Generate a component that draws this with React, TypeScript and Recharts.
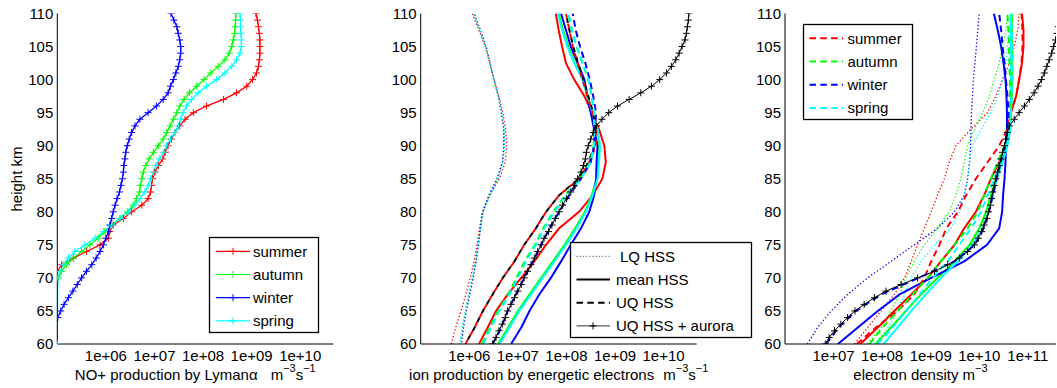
import React from 'react';
import { LineChart, Line, XAxis, YAxis, Legend } from 'recharts';

const FONT = '"Liberation Sans", Arial, Helvetica, sans-serif';

// ---------- categories / axes ----------
const H_1KM = [60, 61, 62, 63, 64, 65, 66, 67, 68, 69, 70, 71, 72, 73, 74, 75, 76, 77, 78, 79, 80, 81, 82, 83, 84, 85, 86, 87, 88, 89, 90, 91, 92, 93, 94, 95, 96, 97, 98, 99, 100, 101, 102, 103, 104, 105, 106, 107, 108, 109, 110];
const H_2P5 = [60, 62.5, 65, 67.5, 70, 72.5, 75, 77.5, 80, 82.5, 85, 87.5, 90, 92.5, 95, 97.5, 100, 102.5, 105, 107.5, 110];

const Y_DOMAIN: [number, number] = [60, 110];
const Y_TICKS = [60, 65, 70, 75, 80, 85, 90, 95, 100, 105, 110];

const X12_DOMAIN: [number, number] = [1e5, 4.8e10];
const X12_TICKS = [1e6, 1e7, 1e8, 1e9, 1e10];
const X12_LABELS = ['1e+06', '1e+07', '1e+08', '1e+09', '1e+10'];
const X12_MINOR = [2e5, 3e5, 4e5, 5e5, 6e5, 7e5, 8e5, 9e5, 2e6, 3e6, 4e6, 5e6, 6e6, 7e6, 8e6, 9e6, 2e7, 3e7, 4e7, 5e7, 6e7, 7e7, 8e7, 9e7, 2e8, 3e8, 4e8, 5e8, 6e8, 7e8, 8e8, 9e8, 2e9, 3e9, 4e9, 5e9, 6e9, 7e9, 8e9, 9e9, 2e10, 3e10, 4e10];

const X3_DOMAIN: [number, number] = [1e6, 3.8e11];
const X3_TICKS = [1e7, 1e8, 1e9, 1e10, 1e11];
const X3_LABELS = ['1e+07', '1e+08', '1e+09', '1e+10', '1e+11'];
const X3_MINOR = [2e6, 3e6, 4e6, 5e6, 6e6, 7e6, 8e6, 9e6, 2e7, 3e7, 4e7, 5e7, 6e7, 7e7, 8e7, 9e7, 2e8, 3e8, 4e8, 5e8, 6e8, 7e8, 8e8, 9e8, 2e9, 3e9, 4e9, 5e9, 6e9, 7e9, 8e9, 9e9, 2e10, 3e10, 4e10, 5e10, 6e10, 7e10, 8e10, 9e10, 2e11, 3e11];

const SEASONS = ['summer', 'autumn', 'winter', 'spring'];
const SEASON_COLORS = ['#ff0000', '#00ff00', '#0000ff', '#00ffff'];
const HSS_LABELS = ['LQ HSS', 'mean HSS', 'UQ HSS', 'UQ HSS + aurora'];

const TITLE1 = 'NO+ production by Lymanα';
const TITLE2 = 'ion production by energetic electrons';
const TITLE3 = 'electron density m';
const Y_TITLE = 'height km';

// ---------- panel 1 : log10 NO+ production by Lyman alpha (60..110 km, 1 km) ----------
const lyaSummer = [null, null, null, null, null, null, null, null, null, null, null, 5.00, 5.09, 5.33, 5.60, 5.88, 6.05, 6.08, 6.15, 6.36, 6.53, 6.74, 6.87, 6.92, 6.94, 6.96, 7.01, 7.08, 7.17, 7.22, 7.28, 7.35, 7.42, 7.52, 7.63, 7.80, 8.07, 8.42, 8.69, 8.90, 9.02, 9.10, 9.14, 9.16, 9.17, 9.17, 9.17, 9.16, 9.14, 9.12, 9.09];
const lyaAutumn = [null, null, null, null, null, null, null, null, null, null, 5.02, 5.09, 5.19, 5.33, 5.50, 5.67, 5.84, 5.98, 6.12, 6.29, 6.44, 6.56, 6.63, 6.69, 6.71, 6.74, 6.77, 6.82, 6.89, 6.98, 7.08, 7.18, 7.25, 7.32, 7.39, 7.46, 7.52, 7.61, 7.72, 7.87, 8.02, 8.16, 8.31, 8.45, 8.54, 8.59, 8.62, 8.65, 8.66, 8.67, 8.68];
const lyaWinter = [null, null, null, null, 5.01, 5.07, 5.14, 5.23, 5.32, 5.41, 5.50, 5.60, 5.71, 5.80, 5.88, 5.95, 6.00, 6.05, 6.08, 6.12, 6.15, 6.19, 6.23, 6.28, 6.31, 6.34, 6.36, 6.37, 6.39, 6.41, 6.44, 6.48, 6.53, 6.60, 6.70, 6.87, 7.04, 7.18, 7.28, 7.33, 7.39, 7.44, 7.49, 7.52, 7.54, 7.54, 7.52, 7.49, 7.46, 7.40, 7.34];
const lyaSpring = [5.00, null, null, null, null, null, null, null, null, null, 5.01, 5.05, 5.12, 5.23, 5.36, 5.57, 5.78, 5.95, 6.12, 6.29, 6.46, 6.60, 6.70, 6.80, 6.87, 6.92, 6.98, 7.03, 7.10, 7.18, 7.25, 7.33, 7.42, 7.49, 7.54, 7.59, 7.66, 7.76, 7.90, 8.07, 8.28, 8.45, 8.59, 8.69, 8.76, 8.79, 8.79, 8.78, 8.77, 8.77, 8.76];

// ---------- panel 2 : log10 ion production by energetic electrons (2.5 km) ----------
const lqRed2 = [5.63, 5.72, 5.83, 5.93, 6.02, 6.10, 6.16, 6.21, 6.27, 6.42, 6.62, 6.74, 6.77, 6.75, 6.69, 6.61, 6.51, 6.42, 6.33, 6.20, 6.06];
const lqGreen2 = [5.81, 5.86, 5.92, 5.99, 6.06, 6.13, 6.18, 6.22, 6.28, 6.42, 6.59, 6.69, 6.72, 6.72, 6.66, 6.59, 6.50, 6.42, 6.33, 6.21, 6.09];
const lqBlue2 = [5.84, 5.88, 5.94, 6.01, 6.08, 6.14, 6.19, 6.23, 6.28, 6.40, 6.57, 6.68, 6.71, 6.71, 6.66, 6.60, 6.51, 6.43, 6.35, 6.23, 6.10];
const lqCyan2 = [5.80, 5.85, 5.92, 5.99, 6.06, 6.13, 6.18, 6.23, 6.29, 6.43, 6.60, 6.70, 6.73, 6.73, 6.67, 6.60, 6.51, 6.43, 6.34, 6.22, 6.09];
const meanRed2 = [6.20, 6.38, 6.55, 6.79, 7.07, 7.34, 7.58, 7.85, 8.26, 8.54, 8.74, 8.81, 8.78, 8.67, 8.52, 8.37, 8.16, 7.99, 7.91, 7.84, 7.78];
const meanGreen2 = [6.59, 6.80, 7.00, 7.24, 7.48, 7.72, 7.96, 8.18, 8.38, 8.52, 8.62, 8.66, 8.68, 8.64, 8.54, 8.44, 8.34, 8.17, 8.04, 7.93, 7.84];
const meanBlue2 = [6.86, 7.07, 7.24, 7.44, 7.68, 7.89, 8.09, 8.30, 8.47, 8.57, 8.61, 8.62, 8.64, 8.57, 8.50, 8.43, 8.37, 8.23, 8.09, 7.99, 7.89];
const meanCyan2 = [6.62, 6.83, 7.03, 7.27, 7.51, 7.75, 7.99, 8.21, 8.40, 8.54, 8.64, 8.67, 8.69, 8.64, 8.54, 8.43, 8.33, 8.16, 8.02, 7.91, 7.82];
const uqBlack2 = [5.92, 6.11, 6.28, 6.48, 6.69, 6.93, 7.13, 7.37, 7.58, 7.85, 8.25, 8.45, 8.58, 8.60, 8.55, 8.45, 8.35, 8.24, 8.14, 8.06, 7.99];
const uqRed2 = [5.92, 6.11, 6.28, 6.48, 6.69, 6.93, 7.13, 7.37, 7.58, 7.85, 8.26, 8.47, 8.61, 8.61, 8.54, 8.43, 8.33, 8.23, 8.13, 8.06, 7.99];
const uqGreen2 = [6.26, 6.42, 6.59, 6.80, 6.97, 7.14, 7.35, 7.52, 7.73, 7.97, 8.28, 8.49, 8.56, 8.57, 8.57, 8.52, 8.45, 8.33, 8.21, 8.11, 8.04];
const uqBlue2 = [6.48, 6.66, 6.79, 6.96, 7.13, 7.31, 7.48, 7.65, 7.85, 8.06, 8.30, 8.50, 8.57, 8.59, 8.61, 8.55, 8.48, 8.39, 8.28, 8.19, 8.13];
const uqCyan2 = [6.29, 6.45, 6.62, 6.83, 7.00, 7.17, 7.37, 7.54, 7.75, 7.99, 8.30, 8.50, 8.57, 8.57, 8.57, 8.52, 8.45, 8.33, 8.21, 8.11, 8.04];
// 1 km
const auroraProd = [6.48, 6.55, 6.61, 6.68, 6.74, 6.79, 6.86, 6.93, 7.00, 7.07, 7.13, 7.20, 7.27, 7.34, 7.41, 7.48, 7.54, 7.63, 7.70, 7.77, 7.85, 7.92, 8.00, 8.09, 8.16, 8.23, 8.30, 8.35, 8.39, 8.41, 8.45, 8.50, 8.55, 8.62, 8.73, 8.87, 9.05, 9.29, 9.53, 9.75, 9.92, 10.06, 10.16, 10.25, 10.32, 10.38, 10.44, 10.47, 10.49, 10.51, 10.52];

// ---------- panel 3 : log10 electron density (2.5 km) ----------
const lqRed3 = [7.43, 7.70, 7.98, 8.25, 8.46, 8.60, 8.73, 8.87, 9.01, 9.14, 9.28, 9.38, 9.52, 9.83, 10.17, 10.34, 10.48, 10.62, 10.72, 10.79, 10.82];
const lqGreen3 = [7.70, 7.98, 8.18, 8.36, 8.49, 8.66, 8.87, 9.14, 9.38, 9.52, 9.62, 9.69, 9.76, 9.90, 10.07, 10.21, 10.31, 10.41, 10.48, 10.55, 10.58];
const lqBlue3 = [6.46, 6.67, 6.95, 7.29, 7.70, 8.18, 8.66, 9.14, 9.49, 9.69, 9.76, 9.80, 9.82, 9.83, 9.84, 9.86, 9.88, 9.91, 9.94, 9.97, 10.00];
const lqCyan3 = [7.84, 8.12, 8.32, 8.46, 8.60, 8.80, 9.08, 9.42, 9.59, 9.69, 9.76, 9.80, 9.86, 10.04, 10.24, 10.38, 10.48, 10.55, 10.58, 10.62, 10.64];
const meanRed3 = [7.55, 7.91, 8.25, 8.60, 8.94, 9.21, 9.49, 9.69, 9.93, 10.10, 10.24, 10.41, 10.55, 10.62, 10.65, 10.76, 10.82, 10.88, 10.91, 10.91, 10.88];
const meanGreen3 = [7.87, 8.18, 8.49, 8.80, 9.14, 9.49, 9.80, 10.00, 10.14, 10.24, 10.34, 10.45, 10.55, 10.62, 10.65, 10.67, 10.67, 10.67, 10.67, 10.67, 10.67];
const meanBlue3 = [7.09, 7.50, 7.91, 8.36, 9.01, 9.69, 10.16, 10.41, 10.47, 10.49, 10.52, 10.54, 10.55, 10.57, 10.57, 10.56, 10.54, 10.50, 10.45, 10.38, 10.30];
const meanCyan3 = [8.03, 8.32, 8.60, 8.90, 9.21, 9.56, 9.86, 10.07, 10.19, 10.28, 10.36, 10.48, 10.58, 10.64, 10.65, 10.65, 10.65, 10.65, 10.65, 10.65, 10.65];
const uqRed3 = [7.48, 7.87, 8.32, 8.66, 8.87, 9.01, 9.18, 9.32, 9.56, 9.73, 9.93, 10.17, 10.41, 10.58, 10.65, 10.76, 10.82, 10.87, 10.89, 10.89, 10.87];
const uqGreen3 = [7.74, 8.01, 8.32, 8.63, 8.94, 9.21, 9.49, 9.76, 9.97, 10.10, 10.24, 10.38, 10.52, 10.60, 10.63, 10.63, 10.63, 10.62, 10.61, 10.60, 10.58];
const uqBlue3 = [6.85, 7.10, 7.46, 7.98, 8.75, 9.49, 9.91, 10.09, 10.20, 10.28, 10.36, 10.44, 10.53, 10.58, 10.60, 10.58, 10.55, 10.52, 10.48, 10.45, 10.41];
const uqCyan3 = [7.91, 8.22, 8.49, 8.77, 9.04, 9.35, 9.59, 9.83, 10.04, 10.17, 10.31, 10.43, 10.55, 10.62, 10.65, 10.67, 10.69, 10.69, 10.69, 10.67, 10.65];
// 1 km
const auroraNe = [6.83, 6.91, 7.02, 7.15, 7.29, 7.44, 7.63, 7.84, 8.08, 8.39, 8.73, 9.08, 9.35, 9.59, 9.76, 9.90, 9.98, 10.05, 10.10, 10.16, 10.19, 10.23, 10.25, 10.28, 10.31, 10.34, 10.38, 10.41, 10.45, 10.48, 10.52, 10.55, 10.58, 10.62, 10.72, 10.82, 10.93, 11.03, 11.13, 11.21, 11.28, 11.34, 11.39, 11.44, 11.49, 11.53, 11.57, 11.60, 11.63, 11.65, 11.67];

// ---------- helpers ----------
type Spec = {
  key: string; hs: number[]; logs: (number | null)[]; color: string; width: number;
  dash?: string; dashOffset?: number; marker?: boolean;
};
const rowsOf = (hs: number[], logs: (number | null)[]) =>
  hs.map((h, i) => ({ h, x: logs[i] == null ? null : Math.pow(10, logs[i] as number) }));

const Blank = () => <g />;
const AX = { stroke: '#000', strokeWidth: 1 };
const TICK = { fill: '#000', fontSize: 15, fontFamily: FONT };

const plusDot = (color: string) => (props: any) => {
  const { cx, cy, index } = props;
  if (cx == null || cy == null || !isFinite(cx) || !isFinite(cy)) return <g key={`n${index}`} />;
  return (
    <path key={`p${index}`} d={`M${cx - 3.5},${cy}H${cx + 3.5}M${cx},${cy - 3.5}V${cy + 3.5}`}
      stroke={color} strokeWidth={1} fill="none" />
  );
};

const PLOT_TOP = 13.5;
const CH_H = 388;

type PanelProps = {
  left: number; width: number; plotLeft: number; plotRight: number;
  domain: [number, number]; majors: number[]; labels: string[]; minors: number[];
  series: Spec[]; title: (p: any) => React.ReactNode; yTitle?: boolean;
  legend: () => React.ReactNode;
  legendPos: { left: number; top: number; width: number; height: number };
};

function Panel(p: PanelProps) {
  const margin = { top: PLOT_TOP, bottom: 0, left: 0, right: p.left + p.width - p.plotRight };
  const yW = p.plotLeft - p.left;
  const xc = { type: 'number' as const, scale: 'log' as const, domain: p.domain, allowDataOverflow: true, interval: 0 as const, stroke: '#000' };
  const yc = { type: 'number' as const, dataKey: 'h', domain: Y_DOMAIN, ticks: Y_TICKS, allowDataOverflow: true, interval: 0 as const, reversed: true, stroke: '#000' };
  return (
    <div style={{ position: 'absolute', left: p.left, top: 0 }}>
      <LineChart width={p.width} height={CH_H} layout="vertical" margin={margin}>
        <XAxis xAxisId="b" {...xc} ticks={p.majors}
          tickFormatter={(v: number) => p.labels[p.majors.indexOf(v)] ?? ''}
          height={CH_H - 344} tickLine={false} tickSize={0} tickMargin={6} axisLine={AX} tick={TICK}
          label={p.title} />
        <XAxis xAxisId="bM" {...xc} mirror height={0} ticks={p.majors} tick={Blank} tickSize={5} tickLine={AX} axisLine={false} />
        <XAxis xAxisId="bm" {...xc} mirror height={0} ticks={p.minors} tick={Blank} tickSize={3} tickLine={AX} axisLine={false} />
        <XAxis xAxisId="tM" orientation="top" {...xc} mirror height={0} ticks={p.majors} tick={Blank} tickSize={5} tickLine={AX} axisLine={AX} />
        <XAxis xAxisId="tm" orientation="top" {...xc} mirror height={0} ticks={p.minors} tick={Blank} tickSize={3} tickLine={AX} axisLine={false} />
        <YAxis yAxisId="l" {...yc} width={yW} tickLine={false} tickSize={0} tickMargin={4} axisLine={AX} tick={TICK}
          label={p.yTitle ? ((lp: any) => (
            <text x={16.5} y={179} transform="rotate(-90 16.5 179)" textAnchor="middle" dominantBaseline="central"
              fontSize={15} fill="#000" fontFamily={FONT}>{Y_TITLE}</text>
          )) : undefined} />
        <YAxis yAxisId="lM" {...yc} mirror width={0} tick={Blank} tickSize={5} tickLine={AX} axisLine={false} />
        <YAxis yAxisId="rM" orientation="right" {...yc} mirror width={0} tick={Blank} tickSize={5} tickLine={AX} axisLine={AX} />
        {p.series.map((s) => (
          <Line key={s.key} xAxisId="b" yAxisId="l" data={rowsOf(s.hs, s.logs)} dataKey="x" type="linear"
            stroke={s.color} strokeWidth={s.width} strokeDasharray={s.dash} strokeDashoffset={s.dashOffset}
            dot={s.marker ? plusDot(s.color) : false} activeDot={false} isAnimationActive={false} connectNulls={false} />
        ))}
        <Legend layout="horizontal" verticalAlign="middle" align="center"
          wrapperStyle={{ position: 'absolute', ...p.legendPos }} content={p.legend as any} />
      </LineChart>
    </div>
  );
}

// ---------- titles ----------
const supTitle = (main: string, units: [string, string][], gap: number) => (props: any) => {
  const vb = props.viewBox || {};
  const cx = (vb.x ?? 0) + (vb.width ?? 0) / 2;
  const y = (vb.y ?? 344) + 36;
  return (
    <text x={cx} y={y} textAnchor="middle" fontSize={15} fill="#000" fontFamily={FONT}>
      <tspan>{main}</tspan>
      {units.map(([b, e], i) => (
        <React.Fragment key={i}>
          <tspan dx={i === 0 ? gap : 0} dy={i === 0 ? 0 : 8}>{b}</tspan>
          <tspan dy={-8} fontSize={11}>{e}</tspan>
        </React.Fragment>
      ))}
    </text>
  );
};

// ---------- legends ----------
const ROW0 = 14.3;
const ROW_STEP = 23.2;

const LegendSeasonsPlus = () => (
  <svg width={110} height={96} style={{ display: 'block', overflow: 'visible' }}>
    <rect x={0.5} y={0.5} width={109} height={95} fill="#fff" stroke="#000" strokeWidth={1.3} />
    {SEASONS.map((s, i) => {
      const y = ROW0 + ROW_STEP * i;
      return (
        <g key={s}>
          <line x1={7} x2={41} y1={y} y2={y} stroke={SEASON_COLORS[i]} strokeWidth={1.2} />
          <path d={`M${20.5},${y}H${27.5}M24,${y - 3.5}V${y + 3.5}`} stroke={SEASON_COLORS[i]} strokeWidth={1} />
          <text x={44} y={y} dy="0.36em" fontSize={15} fill="#000" fontFamily={FONT}>{s}</text>
        </g>
      );
    })}
  </svg>
);

const LegendSeasonsDashed = () => (
  <svg width={110} height={96} style={{ display: 'block', overflow: 'visible' }}>
    <rect x={0.5} y={0.5} width={109} height={95} fill="#fff" stroke="#000" strokeWidth={1.3} />
    {SEASONS.map((s, i) => {
      const y = ROW0 + ROW_STEP * i;
      return (
        <g key={s}>
          <line x1={6.5} x2={40} y1={y} y2={y} stroke={SEASON_COLORS[i]} strokeWidth={2} strokeDasharray="6.5 4.3" />
          <text x={44.5} y={y} dy="0.36em" fontSize={15} fill="#000" fontFamily={FONT}>{s}</text>
        </g>
      );
    })}
  </svg>
);

const HSS_STYLES = [
  { dash: '1.2 2', width: 1.2, color: '#777', marker: false, tx: 50 },
  { dash: undefined, width: 2, color: '#000', marker: false, tx: 46 },
  { dash: '6.5 4.3', width: 2, color: '#000', marker: false, tx: 46 },
  { dash: undefined, width: 1, color: '#333', marker: true, tx: 46 },
];

const LegendHss = () => (
  <svg width={182} height={96} style={{ display: 'block', overflow: 'visible' }}>
    <rect x={0.5} y={0.5} width={181} height={95} fill="#fff" stroke="#000" strokeWidth={1.3} />
    {HSS_LABELS.map((s, i) => {
      const y = ROW0 + ROW_STEP * i;
      const st = HSS_STYLES[i];
      return (
        <g key={s}>
          <line x1={6.5} x2={40} y1={y} y2={y} stroke={st.color} strokeWidth={st.width} strokeDasharray={st.dash} />
          {st.marker && <path d={`M${19.5},${y}H${26.5}M23,${y - 3.5}V${y + 3.5}`} stroke="#000" strokeWidth={1} />}
          <text x={st.tx} y={y} dy="0.36em" fontSize={15} fill="#000" fontFamily={FONT}>{s}</text>
        </g>
      );
    })}
  </svg>
);

// ---------- series ----------
const [RED, GREEN, BLUE, CYAN] = SEASON_COLORS;
const DOT = '1.3 2.2';
const DASH = '6.5 4.3';

const series1: Spec[] = [
  { key: 's', hs: H_1KM, logs: lyaSummer, color: RED, width: 1.3, marker: true },
  { key: 'a', hs: H_1KM, logs: lyaAutumn, color: GREEN, width: 1.3, marker: true },
  { key: 'w', hs: H_1KM, logs: lyaWinter, color: BLUE, width: 1.3, marker: true },
  { key: 'p', hs: H_1KM, logs: lyaSpring, color: CYAN, width: 1.3, marker: true },
];

const series2: Spec[] = [
  { key: 'lr', hs: H_2P5, logs: lqRed2, color: RED, width: 1.3, dash: DOT },
  { key: 'lg', hs: H_2P5, logs: lqGreen2, color: GREEN, width: 1.3, dash: DOT, dashOffset: 1 },
  { key: 'lb', hs: H_2P5, logs: lqBlue2, color: BLUE, width: 1.3, dash: DOT, dashOffset: 2 },
  { key: 'lc', hs: H_2P5, logs: lqCyan2, color: CYAN, width: 1.3, dash: DOT, dashOffset: 0.5 },
  { key: 'mr', hs: H_2P5, logs: meanRed2, color: RED, width: 2 },
  { key: 'mg', hs: H_2P5, logs: meanGreen2, color: GREEN, width: 2 },
  { key: 'mb', hs: H_2P5, logs: meanBlue2, color: BLUE, width: 2 },
  { key: 'mc', hs: H_2P5, logs: meanCyan2, color: CYAN, width: 2 },
  { key: 'uk', hs: H_2P5, logs: uqBlack2, color: '#000', width: 2, dash: '5 5', dashOffset: 5 },
  { key: 'ur', hs: H_2P5, logs: uqRed2, color: RED, width: 2, dash: '5 5' },
  { key: 'ug', hs: H_2P5, logs: uqGreen2, color: GREEN, width: 2, dash: DASH },
  { key: 'ub', hs: H_2P5, logs: uqBlue2, color: BLUE, width: 2, dash: DASH },
  { key: 'uc', hs: H_2P5, logs: uqCyan2, color: CYAN, width: 2, dash: DASH },
  { key: 'au', hs: H_1KM, logs: auroraProd, color: '#000', width: 1, marker: true },
];

const series3: Spec[] = [
  { key: 'lr', hs: H_2P5, logs: lqRed3, color: RED, width: 1.3, dash: DOT },
  { key: 'lg', hs: H_2P5, logs: lqGreen3, color: GREEN, width: 1.3, dash: DOT },
  { key: 'lb', hs: H_2P5, logs: lqBlue3, color: BLUE, width: 1.3, dash: DOT },
  { key: 'lc', hs: H_2P5, logs: lqCyan3, color: CYAN, width: 1.3, dash: DOT },
  { key: 'mr', hs: H_2P5, logs: meanRed3, color: RED, width: 2 },
  { key: 'mg', hs: H_2P5, logs: meanGreen3, color: GREEN, width: 2 },
  { key: 'mb', hs: H_2P5, logs: meanBlue3, color: BLUE, width: 2 },
  { key: 'mc', hs: H_2P5, logs: meanCyan3, color: CYAN, width: 2 },
  { key: 'ur', hs: H_2P5, logs: uqRed3, color: RED, width: 2, dash: DASH },
  { key: 'ug', hs: H_2P5, logs: uqGreen3, color: GREEN, width: 2, dash: DASH },
  { key: 'ub', hs: H_2P5, logs: uqBlue3, color: BLUE, width: 2, dash: DASH },
  { key: 'uc', hs: H_2P5, logs: uqCyan3, color: CYAN, width: 2, dash: DASH },
  { key: 'au', hs: H_1KM, logs: auroraNe, color: '#000', width: 1, marker: true },
];

export default function App() {
  return (
    <div style={{ position: 'absolute', left: 0, top: 0, width: 1057, height: 388, background: '#fff', fontFamily: FONT, overflow: 'hidden' }}>
      <Panel left={0} width={345} plotLeft={57.3} plotRight={333.3}
        domain={X12_DOMAIN} majors={X12_TICKS} labels={X12_LABELS} minors={X12_MINOR}
        series={series1} yTitle
        title={supTitle(TITLE1, [['m', '−3'], ['s', '−1']], 13)}
        legend={LegendSeasonsPlus}
        legendPos={{ left: 209.3, top: 237.3, width: 110, height: 96 }} />
      <Panel left={360} width={350} plotLeft={420.7} plotRight={696.7}
        domain={X12_DOMAIN} majors={X12_TICKS} labels={X12_LABELS} minors={X12_MINOR}
        series={series2}
        title={supTitle(TITLE2, [['m', '−3'], ['s', '−1']], 9)}
        legend={LegendHss}
        legendPos={{ left: 210, top: 241.7, width: 182, height: 96 }} />
      <Panel left={715} width={342} plotLeft={785} plotRight={1056}
        domain={X3_DOMAIN} majors={X3_TICKS} labels={X3_LABELS} minors={X3_MINOR}
        series={series3}
        title={supTitle(TITLE3, [['', '−3']], 0)}
        legend={LegendSeasonsDashed}
        legendPos={{ left: 87.7, top: 24, width: 110, height: 96 }} />
    </div>
  );
}
